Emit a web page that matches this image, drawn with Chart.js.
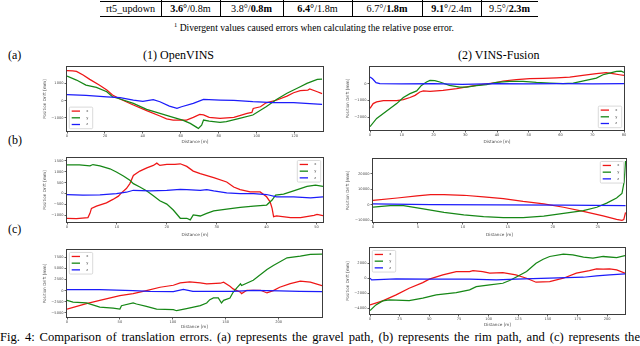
<!DOCTYPE html>
<html><head><meta charset="utf-8">
<script src="https://cdn.jsdelivr.net/npm/chart.js@4.4.1/dist/chart.umd.min.js"></script>
<style>
html,body{margin:0;padding:0;background:#fff;}
body{width:640px;height:346px;position:relative;overflow:hidden;font-family:"Liberation Serif","Times New Roman",serif;color:#000;}
.t{position:absolute;white-space:nowrap;}
.cell{position:absolute;top:2px;height:14px;line-height:14px;font-size:10.2px;text-align:center;white-space:nowrap;}
.hl{position:absolute;height:1px;background:#000;}
.vl{position:absolute;width:1px;background:#000;}
canvas{position:absolute;}
.cap{position:absolute;left:0;top:329px;width:640px;font-size:12.6px;line-height:16px;text-align:justify;text-align-last:justify;white-space:nowrap;}
</style></head><body>

<div class="hl" style="left:100px;top:1px;width:438px"></div>
<div class="hl" style="left:100px;top:16px;width:438px"></div>
<div class="vl" style="left:161px;top:0;height:17px"></div>
<div class="vl" style="left:220px;top:0;height:17px"></div>
<div class="vl" style="left:283px;top:0;height:17px"></div>
<div class="vl" style="left:352px;top:0;height:17px"></div>
<div class="vl" style="left:422px;top:0;height:17px"></div>
<div class="vl" style="left:481px;top:0;height:17px"></div>
<div class="cell" style="left:100px;width:61px">rt5_updown</div>
<div class="cell" style="left:161px;width:59px"><b>3.6°</b>/0.8m</div>
<div class="cell" style="left:220px;width:63px">3.8°/<b>0.8m</b></div>
<div class="cell" style="left:283px;width:69px"><b>6.4°</b>/1.8m</div>
<div class="cell" style="left:352px;width:70px">6.7°/<b>1.8m</b></div>
<div class="cell" style="left:422px;width:59px"><b>9.1°</b>/2.4m</div>
<div class="cell" style="left:481px;width:57px">9.5°/<b>2.3m</b></div>
<div class="t" style="left:174px;top:19px;font-size:9.6px;line-height:12px"><sup style="font-size:6.5px">1</sup> Divergent values caused errors when calculating the relative pose error.</div>

<div class="t" style="left:8px;top:48px;font-size:12px;line-height:14px">(a)</div>
<div class="t" style="left:143px;top:48px;font-size:12px;line-height:14px">(1) OpenVINS</div>
<div class="t" style="left:458px;top:48px;font-size:12px;line-height:14px">(2) VINS-Fusion</div>
<div class="t" style="left:8px;top:133px;font-size:12px;line-height:14px">(b)</div>
<div class="t" style="left:8px;top:222px;font-size:12px;line-height:14px">(c)</div>

<div class="cap">Fig. 4: Comparison of translation errors. (a) represents the gravel path, (b) represents the rim path, and (c) represents the</div>

<script>
// ---------- DATA ----------
const seriesLabels = ['x', 'y', 'z'];

// (a) gravel path - OpenVINS
const gravelOvDistX = [0, 3, 5, 8.5, 12, 17, 21, 24, 28, 35, 42, 49, 52.5, 56, 63, 66.6, 70, 72, 75, 80.7, 88, 95, 97.5, 98.2, 102, 105, 110.7, 116, 119.5, 123, 127, 128, 132, 134.5];
const gravelOvX = [1750, 1740, 1700, 1490, 1240, 910, 620, 330, 100, -250, -580, -890, -1050, -1125, -1125, -970, -800, -820, -970, -1030, -970, -740, -680, -450, -350, -120, 40, 270, 465, 580, 620, 680, 520, 410];
const gravelOvDistY = [0, 5, 10, 15.5, 21, 24, 28, 35, 42, 49, 56, 61, 65, 68.4, 69.3, 71, 72, 75, 80.7, 84, 91, 98, 105, 110.7, 116, 123, 126.5, 132, 134.5];
const gravelOvY = [1435, 1200, 910, 775, 525, 230, 100, -155, -505, -740, -970, -1125, -1320, -1550, -1610, -1420, -1125, -1180, -1260, -1220, -1030, -830, -350, 80, 430, 815, 1010, 1240, 1260];
const gravelOvDistZ = [0, 10, 21, 28, 35, 40, 45.5, 49, 54, 58, 60.4, 66.6, 72, 80.7, 88, 98, 109, 119.5, 128, 134.5];
const gravelOvZ = [350, 310, 230, 175, 40, -40, 60, -60, -310, -450, -350, -155, 80, 40, 20, -60, -115, -115, -175, -210];

// (a) gravel path - VINS-Fusion
const gravelVfDistX = [0, 1, 2.1, 4.2, 8.4, 10.5, 12.6, 14.2, 15.7, 16.8, 18.9, 23, 27.3, 31.4, 35.6, 39.8, 41.9, 46.1, 50.3, 54.5, 58.7, 62.9, 67, 71.3, 74.4, 76.5, 78.6, 80];
const gravelVfX = [-1470, -1180, -1080, -1000, -1000, -940, -820, -690, -490, -430, -450, -390, -295, -160, -40, 60, 160, 235, 295, 315, 350, 390, 490, 590, 650, 590, 530, 490];
const gravelVfDistY = [0, 2.1, 4.2, 6.3, 8.4, 10.5, 12.6, 14.7, 16.2, 17.8, 18.9, 20.4, 22, 25, 28.3, 30.4, 33.5, 36.7, 39.8, 44, 48.2, 52.4, 56.6, 60.8, 64, 68, 71.3, 73.4, 75.5, 77.6, 79.1, 80];
const gravelVfY = [-2550, -2060, -1765, -1470, -1180, -820, -590, -430, -100, 100, 200, 175, 100, -100, -200, -200, -120, -60, 80, 140, 140, 80, 40, 0, 40, 200, 330, 530, 630, 725, 745, 670];
const gravelVfDistZ = [0, 0.8, 1.9, 3.1, 10, 20, 29, 40, 50, 60, 70, 80];
const gravelVfZ = [390, 295, 60, 0, -10, 0, -40, 0, -10, 10, -10, 0];

// (b) rim path - OpenVINS
const rimOvDistX = [0, 1.9, 4.2, 4.6, 4.9, 5.9, 7.9, 9.2, 10.3, 10.9, 11.9, 12.6, 13.3, 14.6, 16, 17.3, 18, 18.6, 20, 21.6, 22.7, 24, 25.3, 26.7, 29.4, 32, 33.4, 34.7, 36.7, 38.7, 40, 40.7, 41.1, 41.4, 42, 44.8, 46.8, 49.5, 50.1, 51.3];
const rimOvX = [-1135, -1150, -1105, -910, -680, -575, -425, -270, -120, 30, 230, 455, 830, 1030, 1180, 1290, 1395, 1290, 1335, 1335, 1365, 1245, 1030, 910, 730, 530, 300, 180, 75, 75, -150, -380, -680, -1060, -1030, -1105, -1105, -1000, -955, -1015];
const rimOvDistY = [0, 2.5, 4.6, 5.2, 6.6, 8.6, 9.9, 11.3, 12.6, 13.3, 14.6, 16, 17.3, 18.6, 20, 21.3, 22.7, 24, 24.7, 25.3, 26.7, 28, 29.4, 32, 34.7, 37.4, 40, 41.1, 41.8, 43.4, 45.4, 48.1, 49.8, 51.3];
const rimOvY = [1320, 1320, 1270, 1330, 1270, 1135, 985, 805, 605, 455, 300, 120, -105, -330, -485, -755, -1135, -1135, -1210, -985, -1030, -910, -800, -710, -635, -575, -530, -300, -75, -30, 120, 330, 390, 330];
const rimOvDistZ = [0, 3.2, 6.6, 9.9, 11.9, 13.3, 16.6, 20, 22.7, 24, 26.7, 28, 29.4, 32, 34.7, 37.4, 40, 42, 45.4, 48.8, 51.3];
const rimOvZ = [-45, -75, -60, 0, 60, 150, 120, 150, 195, 180, 150, 180, 120, 30, 0, 0, -45, -150, -150, -195, -150];

// (b) rim path - VINS-Fusion
const rimVfDistX = [0, 2.7, 4.9, 6.4, 7.9, 10.1, 12.3, 14.5, 16.7, 19, 21.2, 23.4, 25.6, 27.1, 27.7, 27.9, 28.1];
const rimVfX = [2890, 4440, 5770, 6660, 6660, 6220, 5100, 4000, 2220, 670, -1550, -4220, -7100, -9330, -10000, -9500, -4900];
const rimVfDistY = [0, 1.9, 3.4, 5.6, 7.9, 10.1, 12.3, 14.5, 16.7, 19, 21.2, 23.4, 24.9, 26, 27.1, 27.7, 27.95, 28.1];
const rimVfY = [-1550, -440, -440, -2660, -4900, -6440, -7550, -8200, -8200, -7330, -5550, -3770, -1550, 1100, 4440, 7330, 15100, 28400];
const rimVfDistZ = [0, 6.4, 13.7, 21.2, 28.1];
const rimVfZ = [670, 220, 0, -220, -440];

// (c) third path - OpenVINS
const thirdOvDistX = [0, 18.3, 31, 50, 62.5, 75, 88, 100.5, 107, 116, 126, 132, 145, 148, 154, 157, 164, 165, 170, 183, 189, 195, 201, 211, 220.5, 230, 241];
const thirdOvX = [-4170, -2960, -2200, -1140, -680, 0, 760, 1210, 1740, 1970, 1740, 1520, 1670, 1900, 985, 380, -380, -680, 75, 75, -530, 0, 760, 1590, 2120, 1900, 1140];
const thirdOvDistY = [0, 5.7, 18.3, 31, 43.6, 50, 51.5, 62.5, 65.7, 75, 84.7, 100.5, 103.6, 113, 126, 132, 135, 138.4, 143, 146, 148, 154, 157, 160.5, 164, 165, 176, 189, 195, 208, 220.5, 230, 241];
const thirdOvY = [-2200, -2580, -2800, -3710, -3940, -4170, -3410, -2800, -3030, -3560, -4170, -4320, -4550, -4090, -3410, -2800, -2050, -1670, -1670, -2800, -2200, -1670, -380, 610, 1520, 1140, 2350, 4770, 5680, 7420, 7800, 8180, 8260];
const thirdOvDistZ = [0, 31, 62.5, 78, 100.5, 110, 119, 157, 176, 201, 220, 241];
const thirdOvZ = [230, 230, 0, -150, -230, 300, -150, -150, 75, -75, -150, -230];

// (c) third path - VINS-Fusion
const thirdVfDistX = [0, 10.7, 22, 33, 44.5, 50, 61.4, 72.7, 84, 86.8, 95, 101, 112, 123, 132, 140, 151.5, 163, 174, 185, 191, 196.6, 202, 208, 215];
const thirdVfX = [-3550, -3020, -2220, -1330, -580, -130, 440, 890, 890, 1020, 890, 670, 760, 440, 0, -530, -440, 0, 670, 1020, 1240, 1200, 1240, 1110, 670];
const thirdVfDistY = [0, 5, 10.7, 16.3, 33, 44.5, 55.8, 72.7, 84, 89.6, 101, 112, 117.7, 123, 132, 140, 146, 151.5, 163, 171, 180, 188, 196.6, 208, 215];
const thirdVfY = [-4310, -3550, -3020, -2890, -2980, -2660, -2220, -1910, -1550, -1110, -890, -670, -310, 130, 890, 2000, 2530, 2890, 3200, 3110, 2800, 2660, 2890, 2750, 3020];
const thirdVfDistZ = [0, 1.4, 22, 50, 84, 106.5, 123, 151.5, 180, 191, 202, 215];
const thirdVfZ = [0, -220, -90, -130, -130, -220, -130, 0, 130, 310, 440, 580];

// axis ranges
const gravelOvAxes = {xMin: 0, xMax: 135, yMin: -1760, yMax: 1950};
const gravelVfAxes = {xMin: 0, xMax: 80, yMin: -2745, yMax: 980};
const rimOvAxes = {xMin: 0, xMax: 51.3, yMin: -1306, yMax: 1623};
const rimVfAxes = {xMin: 0, xMax: 28.15, yMin: -11100, yMax: 29590};
const thirdOvAxes = {xMin: 0, xMax: 241, yMin: -5970, yMax: 9150};
const thirdVfAxes = {xMin: 0, xMax: 215, yMin: -4760, yMax: 4000};

// tick labels
const gravelOvXTicks = [0, 20, 40, 60, 80, 100, 120];
const gravelOvYTicks = [-1000, 0, 1000];
const gravelVfXTicks = [0, 10, 20, 30, 40, 50, 60, 70, 80];
const gravelVfYTicks = [-2000, -1000, 0];
const rimOvXTicks = [0, 10, 20, 30, 40, 50];
const rimOvYTicks = [-1000, -500, 0, 500, 1000, 1500];
const rimVfXTicks = [0, 5, 10, 15, 20, 25];
const rimVfYTicks = [-10000, 0, 10000, 20000];
const thirdOvXTicks = [0, 50, 100, 150, 200];
const thirdOvYTicks = [-5000, -2500, 0, 2500, 5000, 7500];
const thirdVfXTicks = [0, 25, 50, 75, 100, 125, 150, 175, 200];
const thirdVfYTicks = [-4000, -2000, 0, 2000];

const xTitle = 'Distance [m]';
const yTitle = 'Position Drift [mm]';

// ---------- RENDERING ----------
const COLORS = ['rgb(238,22,22)', 'rgb(22,135,22)', 'rgb(28,28,250)'];
const FONT = '"DejaVu Sans", sans-serif';
const TXT = '#4a4a4a';

const framePlugin = {
  id: 'frame',
  afterDatasetsDraw(chart) {
    const a = chart.chartArea, ctx = chart.ctx;
    ctx.save();
    ctx.strokeStyle = '#3c3c3c';
    ctx.lineWidth = 1;
    ctx.strokeRect(Math.round(a.left) - 0.5, Math.round(a.top) - 0.5, Math.round(a.right - a.left) + 1, Math.round(a.bottom - a.top) + 1);
    ctx.restore();
  }
};
const legendPlugin = {
  id: 'boxLegend',
  afterDraw(chart, args, opts) {
    const a = chart.chartArea, ctx = chart.ctx;
    const w = 23.4, h = 21.6, m = 2.3;
    const x = opts.corner.includes('l') ? a.left + m : a.right - m - w;
    const y = opts.corner.includes('t') ? a.top + m : a.bottom - m - h;
    ctx.save();
    ctx.fillStyle = 'rgba(255,255,255,0.85)';
    ctx.strokeStyle = '#cfcfcf';
    ctx.lineWidth = 0.8;
    ctx.beginPath();
    if (ctx.roundRect) ctx.roundRect(x, y, w, h, 1.2); else ctx.rect(x, y, w, h);
    ctx.fill(); ctx.stroke();
    chart.data.datasets.forEach((ds, i) => {
      const yy = y + 4 + i * 6.7;
      ctx.strokeStyle = ds.borderColor;
      ctx.lineWidth = 1.3;
      ctx.beginPath(); ctx.moveTo(x + 2.4, yy); ctx.lineTo(x + 10.7, yy); ctx.stroke();
      ctx.fillStyle = TXT;
      ctx.font = '3.6px ' + FONT;
      ctx.textBaseline = 'middle';
      ctx.fillText(ds.label, x + 17, yy);
    });
    ctx.restore();
  }
};

function fmt(v) { return v < 0 ? '\u2212' + Math.abs(v) : String(v); }

function buildChart(spec) {
  const P = spec.plot;
  const cl = Math.round(spec.yTitleX - 3), ct = P.T - 3, cr = P.R + 3, cb = Math.round(spec.xTitleY + 3);
  const cv = document.createElement('canvas');
  cv.width = cr - cl; cv.height = cb - ct;
  cv.style.left = cl + 'px'; cv.style.top = ct + 'px';
  cv.style.width = (cr - cl) + 'px'; cv.style.height = (cb - ct) + 'px';
  document.body.appendChild(cv);
  const datasets = spec.series.map((s, i) => ({
    label: seriesLabels[i],
    data: s[0].map((d, k) => ({x: d, y: s[1][k]})),
    borderColor: COLORS[i],
    borderWidth: 1.25,
    pointRadius: 0,
    fill: false,
    tension: 0,
    order: 3 - i
  }));
  const ax = spec.axes;
  const tickFont = {family: FONT, size: 3.6};
  const titleFont = {family: FONT, size: 4.2, lineHeight: '6px'};
  new Chart(cv, {
    type: 'line',
    data: {datasets},
    plugins: [framePlugin, legendPlugin],
    options: {
      responsive: false, animation: false, devicePixelRatio: 1,
      layout: {padding: {top: P.T - ct, right: cr - P.R, left: 0, bottom: 0}},
      plugins: {legend: {display: false}, tooltip: {enabled: false}, boxLegend: {corner: spec.legend}},
      scales: {
        x: {
          type: 'linear', min: ax.xMin, max: ax.xMax,
          afterBuildTicks(s) { s.ticks = spec.xTicks.map(v => ({value: v})); },
          ticks: {autoSkip: false, maxRotation: 0, minRotation: 0, font: tickFont, color: TXT, padding: 0.5, callback: fmt},
          grid: {drawOnChartArea: false, drawTicks: true, tickLength: 2.5, color: '#3c3c3c', lineWidth: 0.8},
          border: {display: false},
          title: {display: true, text: xTitle, font: titleFont, color: TXT, padding: 0},
          afterFit(s) { s.height = cb - P.B; }
        },
        y: {
          type: 'linear', min: ax.yMin, max: ax.yMax,
          afterBuildTicks(s) { s.ticks = spec.yTicks.map(v => ({value: v})); },
          ticks: {autoSkip: false, font: tickFont, color: TXT, padding: 1, callback: fmt},
          grid: {drawOnChartArea: false, drawTicks: true, tickLength: 2.5, color: '#3c3c3c', lineWidth: 0.8},
          border: {display: false},
          title: {display: true, text: yTitle, font: titleFont, color: TXT, padding: 0},
          afterFit(s) { s.width = P.L - cl; }
        }
      }
    }
  });
}

buildChart({plot: {L: 67, T: 67, R: 323, B: 131}, yTitleX: 45, xTitleY: 142, axes: gravelOvAxes, xTicks: gravelOvXTicks, yTicks: gravelOvYTicks, legend: 'bl',
  series: [[gravelOvDistX, gravelOvX], [gravelOvDistY, gravelOvY], [gravelOvDistZ, gravelOvZ]]});
buildChart({plot: {L: 370, T: 67, R: 624, B: 130}, yTitleX: 348, xTitleY: 142, axes: gravelVfAxes, xTicks: gravelVfXTicks, yTicks: gravelVfYTicks, legend: 'br',
  series: [[gravelVfDistX, gravelVfX], [gravelVfDistY, gravelVfY], [gravelVfDistZ, gravelVfZ]]});
buildChart({plot: {L: 67, T: 158, R: 323, B: 222}, yTitleX: 45, xTitleY: 235, axes: rimOvAxes, xTicks: rimOvXTicks, yTicks: rimOvYTicks, legend: 'tr',
  series: [[rimOvDistX, rimOvX], [rimOvDistY, rimOvY], [rimOvDistZ, rimOvZ]]});
buildChart({plot: {L: 373, T: 159, R: 626, B: 222}, yTitleX: 348, xTitleY: 235, axes: rimVfAxes, xTicks: rimVfXTicks, yTicks: rimVfYTicks, legend: 'tr',
  series: [[rimVfDistX, rimVfX], [rimVfDistY, rimVfY], [rimVfDistZ, rimVfZ]]});
buildChart({plot: {L: 67, T: 250, R: 322, B: 317}, yTitleX: 45, xTitleY: 327, axes: thirdOvAxes, xTicks: thirdOvXTicks, yTicks: thirdOvYTicks, legend: 'tl',
  series: [[thirdOvDistX, thirdOvX], [thirdOvDistY, thirdOvY], [thirdOvDistZ, thirdOvZ]]});
buildChart({plot: {L: 370, T: 248, R: 625, B: 314}, yTitleX: 348, xTitleY: 325, axes: thirdVfAxes, xTicks: thirdVfXTicks, yTicks: thirdVfYTicks, legend: 'tl',
  series: [[thirdVfDistX, thirdVfX], [thirdVfDistY, thirdVfY], [thirdVfDistZ, thirdVfZ]]});
</script>
</body></html>
